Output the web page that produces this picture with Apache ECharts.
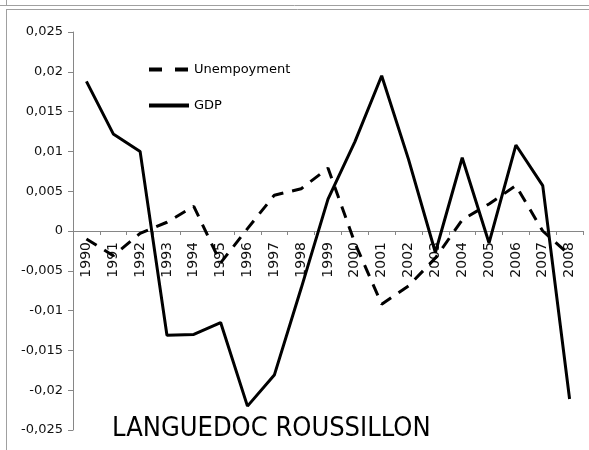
<!DOCTYPE html>
<html>
<head>
<meta charset="utf-8">
<script src="https://cdn.jsdelivr.net/npm/echarts@6/dist/echarts.min.js"></script>
<style>
  html, body { margin: 0; padding: 0; background: #fff; }
  #chart { width: 589px; height: 450px; }
</style>
</head>
<body>
<div id="chart"></div>
<script>
// years on the x axis
var years = ['1990', '1991', '1992', '1993', '1994', '1995', '1996', '1997', '1998', '1999',
  '2000', '2001', '2002', '2003', '2004', '2005', '2006', '2007', '2008']
// values
var unemployment = [-0.0010, -0.0031, -0.0003, 0.0011, 0.0031, -0.0040, 0.0003, 0.0045, 0.0053, 0.0079,
  -0.0015, -0.0092, -0.0069, -0.0034, 0.0014, 0.0034, 0.0057, 0.0000, -0.0030]
var gdp = [0.0188, 0.0122, 0.0100, -0.0131, -0.0130, -0.0115, -0.0220, -0.0181, -0.0072, 0.0040,
  0.0112, 0.0195, 0.0090, -0.0027, 0.0092, -0.0015, 0.0108, 0.0057, -0.0211]

var chart = echarts.init(document.getElementById('chart'))

function fmt(v) {
  // 0.025 -> 0,025 like the excel original
  return String(parseFloat(v.toFixed(3))).replace('.', ',')
}

chart.setOption({
  animation: false,
  backgroundColor: '#fff',
  title: {
    text: 'LANGUEDOC ROUSSILLON',
    left: 112,
    top: 415,
    padding: 0,
    textStyle: {
      fontFamily: '"Liberation Sans Narrow", "DejaVu Sans Condensed", sans-serif',
      fontSize: 27,
      fontWeight: 'normal',
      color: '#000'
    }
  },
  legend: {
    orient: 'vertical',
    left: 147,
    top: 63,
    itemWidth: 40,
    itemHeight: 14,
    itemGap: 23,
    padding: 0,
    textStyle: { fontFamily: 'DejaVu Sans', fontSize: 13, color: '#000' },
    data: [
      { name: 'Unempoyment', itemStyle: { opacity: 0 }, lineStyle: { type: [13, 13], width: 4, color: '#000' } },
      { name: 'GDP', itemStyle: { opacity: 0 }, lineStyle: { width: 4, color: '#000' } }
    ]
  },
  grid: {
    left: 73,
    right: 6,
    top: 32,
    bottom: 20,
    containLabel: false,
    outerBoundsMode: 'none'
  },
  xAxis: {
    type: 'category',
    data: years,
    boundaryGap: true,
    // axis sits on the zero line, labels follow it
    offset: -199,
    axisLine: { onZero: false, lineStyle: { color: '#868686', width: 1 } },
    axisTick: { show: true, length: 4, lineStyle: { color: '#868686' } },
    axisLabel: {
      rotate: 90,
      interval: 0,
      margin: 11,
      fontFamily: 'DejaVu Sans',
      fontSize: 14,
      color: '#111'
    },
    splitLine: { show: false }
  },
  yAxis: {
    type: 'value',
    min: -0.025,
    max: 0.025,
    interval: 0.005,
    axisLine: { show: true, lineStyle: { color: '#868686', width: 1 } },
    axisTick: { show: true, length: 5, lineStyle: { color: '#868686' } },
    axisLabel: {
      margin: 10,
      fontFamily: 'DejaVu Sans',
      fontSize: 13,
      color: '#111',
      formatter: fmt
    },
    splitLine: { show: false }
  },
  series: [
    {
      name: 'Unempoyment',
      type: 'line',
      data: unemployment,
      symbol: 'none',
      lineStyle: { color: '#000', width: 3, type: [12, 9] },
      itemStyle: { color: '#000' }
    },
    {
      name: 'GDP',
      type: 'line',
      data: gdp,
      symbol: 'none',
      lineStyle: { color: '#000', width: 3 },
      itemStyle: { color: '#000' }
    }
  ],
  graphic: [
    // excel frame edges
    { type: 'line', shape: { x1: 0, y1: 5.5, x2: 589, y2: 5.5 }, style: { stroke: '#a0a0a0', lineWidth: 1 } },
    { type: 'line', shape: { x1: 6.5, y1: 0, x2: 6.5, y2: 5 }, style: { stroke: '#a0a0a0', lineWidth: 1 } },
    { type: 'line', shape: { x1: 6, y1: 9.5, x2: 589, y2: 9.5 }, style: { stroke: '#a0a0a0', lineWidth: 1 } },
    { type: 'line', shape: { x1: 6.5, y1: 9, x2: 6.5, y2: 450 }, style: { stroke: '#a0a0a0', lineWidth: 1 } }
  ]
})
</script>
</body>
</html>
